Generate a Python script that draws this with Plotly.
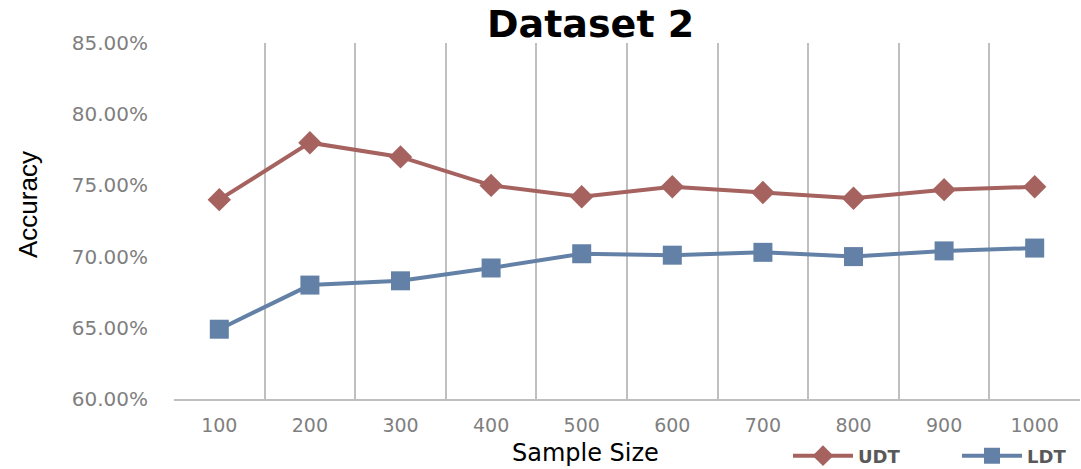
import plotly.graph_objects as go

categories = ["100", "200", "300", "400", "500", "600", "700", "800", "900", "1000"]
udt = [0.740, 0.780, 0.770, 0.750, 0.742, 0.749, 0.745, 0.741, 0.747, 0.749]
ldt = [0.649, 0.680, 0.683, 0.692, 0.702, 0.701, 0.703, 0.700, 0.704, 0.706]
y_ticks = [0.60, 0.65, 0.70, 0.75, 0.80, 0.85]

UDT_COLOR = "#A5625F"
LDT_COLOR = "#6381A6"
GRID = "#BFBFBF"

fig = go.Figure()
fig.add_trace(go.Scatter(
    x=categories, y=udt, name="UDT", mode="lines+markers",
    line=dict(color=UDT_COLOR, width=4),
    marker=dict(symbol="diamond", size=18, color=UDT_COLOR),
))
fig.add_trace(go.Scatter(
    x=categories, y=ldt, name="LDT", mode="lines+markers",
    line=dict(color=LDT_COLOR, width=4),
    marker=dict(symbol="square", size=19, color=LDT_COLOR),
))

W, H = 1081, 469
L, R, T, B = 174, 1, 43, 70

fig.update_layout(
    width=W, height=H,
    margin=dict(l=L, r=R, t=T, b=B),
    paper_bgcolor="white", plot_bgcolor="white",
    showlegend=True,
    legend=dict(
        orientation="h", xref="container", yref="container",
        x=788 / W, y=(H - 456) / H, xanchor="left", yanchor="middle",
        font=dict(family="DejaVu Sans", size=18, color="#595959", weight="bold"),
        itemwidth=60, entrywidth=94, entrywidthmode="pixels",
        bgcolor="rgba(0,0,0,0)", tracegroupgap=0,
    ),
    xaxis=dict(
        type="category", tickson="boundaries", showgrid=True,
        gridcolor=GRID, gridwidth=2,
        showline=True, linecolor=GRID, linewidth=2,
        ticks="", ticklabelstandoff=8,
        tickfont=dict(family="DejaVu Sans", size=19, color="#7F7F7F"),
        range=[-0.5, 9.5],
    ),
    yaxis=dict(
        range=[0.60, 0.85], tickvals=y_ticks, tickformat=".2%",
        showgrid=False, zeroline=False, showline=False, ticks="",
        ticklabelstandoff=25,
        tickfont=dict(family="DejaVu Sans", size=20, color="#7F7F7F"),
    ),
)

ph = H - T - B
def py(pix):
    return (H - B - pix) / ph

pw = W - L - R
def px(pix):
    return (pix - L) / pw

fig.add_annotation(text="Dataset 2", xref="paper", yref="paper",
                   x=px(590), y=py(24), xanchor="center", yanchor="middle",
                   showarrow=False,
                   font=dict(family="DejaVu Sans", size=38, color="black", weight="bold"))
fig.add_annotation(text="Accuracy", xref="paper", yref="paper",
                   x=px(28), y=py(205), xanchor="center", yanchor="middle",
                   textangle=-90, showarrow=False,
                   font=dict(family="Liberation Sans", size=26, color="black"))
fig.add_annotation(text="Sample Size", xref="paper", yref="paper",
                   x=px(585), y=py(469), xanchor="center", yanchor="bottom",
                   showarrow=False,
                   font=dict(family="DejaVu Sans", size=24, color="black"))

fig.write_html("out.html", config={"displayModeBar": False},
               post_script="document.body.style.margin='0';document.body.style.padding='0';")
